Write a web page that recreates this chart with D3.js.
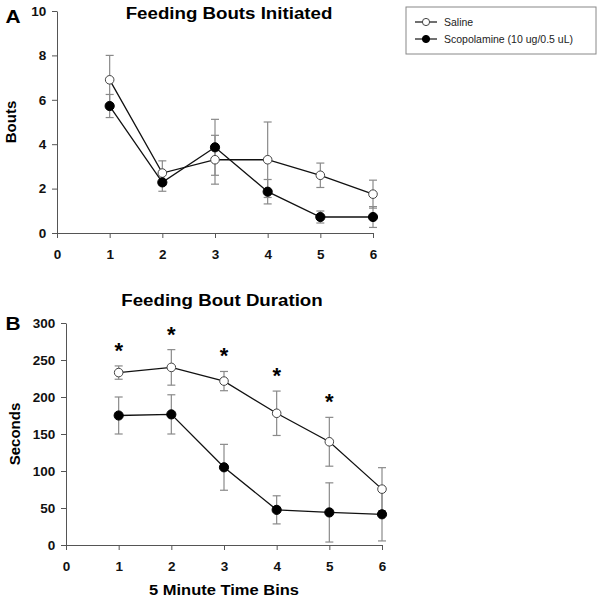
<!DOCTYPE html>
<html><head><meta charset="utf-8">
<script src="https://cdn.jsdelivr.net/npm/d3@7"></script>
<style>body{margin:0;background:#fff}text{font-family:"Liberation Sans",Arial,sans-serif}</style>
</head><body><svg id="c" width="600" height="600"></svg>
<script>
const bins = [1, 2, 3, 4, 5, 6];
const xTicks = [0, 1, 2, 3, 4, 5, 6];
const seriesNames = ["Saline", "Scopolamine (10 ug/0.5 uL)"];
// Panel A: Feeding Bouts Initiated
const boutsSaline = [6.9, 2.7, 3.3, 3.3, 2.6, 1.75];
const boutsSalineErr = [1.1, 0.55, 1.1, 1.7, 0.55, 0.63];
const boutsScop = [5.72, 2.28, 3.86, 1.86, 0.72, 0.72];
const boutsScopErr = [0.52, 0.4, 1.26, 0.55, 0.27, 0.47];
const boutsTicks = [0, 2, 4, 6, 8, 10];
// Panel B: Feeding Bout Duration
const durSaline = [233, 240, 221.5, 178, 139.5, 75.5];
const durSalineErr = [9, 24, 13, 30, 33, 29];
const durScop = [175, 176.5, 105, 47.5, 44, 41.5];
const durScopErr = [25, 26.5, 31, 19, 40, 36];
const durTicks = [0, 50, 100, 150, 200, 250, 300];
const sigBins = [1, 2, 3, 4, 5];

const svg = d3.select("#c");
const errColor = "#8a8a8a", axisColor = "#555";

function stretchText(sel, x, y) {
  // slight horizontal stretch as in the reference image
  return sel.attr("transform", `translate(${x},${y}) scale(1.1,1)`);
}

function panel(cfg) {
  const x = d3.scaleLinear().domain([0, 6]).range([cfg.x0, cfg.x1]);
  const y = d3.scaleLinear().domain([0, cfg.ymax]).range([cfg.yb, cfg.yt]);
  const g = svg.append("g");
  const xa = g.append("g").attr("transform", `translate(0,${cfg.yb})`)
    .call(d3.axisBottom(x).tickValues(xTicks).tickSize(5).tickSizeOuter(0).tickFormat(d3.format("d")));
  const ya = g.append("g").attr("transform", `translate(${cfg.x0},0)`)
    .call(d3.axisLeft(y).tickValues(cfg.ticks).tickSize(5).tickSizeOuter(0).tickFormat(d3.format("d")));
  [xa, ya].forEach(a => {
    a.selectAll("path,line").attr("stroke", axisColor).attr("stroke-width", 1);
    a.selectAll("text").attr("fill", "#111").style("font-size", "13.5px").style("font-weight", "bold");
  });
  xa.selectAll("text").attr("dy", "1.3em");
  ya.selectAll("text").attr("dx", "-0.2em");
  const line = d3.line().x((d, i) => x(bins[i])).y(d => y(d));
  const sets = [[cfg.s1, cfg.e1, "#fff"], [cfg.s2, cfg.e2, "#000"]];
  sets.forEach(([v, e]) => {
    const eg = g.append("g").attr("stroke", errColor).attr("stroke-width", 1.2);
    v.forEach((d, i) => {
      const cx = x(bins[i]);
      eg.append("line").attr("x1", cx).attr("x2", cx).attr("y1", y(d - e[i])).attr("y2", y(d + e[i]));
      [d - e[i], d + e[i]].forEach(t => eg.append("line").attr("x1", cx - 4).attr("x2", cx + 4).attr("y1", y(t)).attr("y2", y(t)));
    });
  });
  sets.forEach(([v]) => g.append("path").datum(v).attr("d", line).attr("fill", "none").attr("stroke", "#111").attr("stroke-width", 1.3));
  sets.forEach(([v, e, f]) => {
    g.selectAll(null).data(v).enter().append("circle")
      .attr("cx", (d, i) => x(bins[i])).attr("cy", d => y(d))
      .attr("r", f === "#000" ? 4.6 : 4.3).attr("fill", f).attr("stroke", f === "#000" ? "#000" : "#444").attr("stroke-width", 1);
  });
  stretchText(g.append("text"), cfg.titleX, cfg.titleY).attr("text-anchor", "middle")
    .style("font-size", "17px").style("font-weight", "bold").text(cfg.title);
  stretchText(g.append("text"), 13, cfg.letterY).attr("text-anchor", "middle")
    .style("font-size", "19px").style("font-weight", "bold").text(cfg.letter);
  g.append("text").attr("transform", `translate(${cfg.ylabX},${(cfg.yt + cfg.yb) / 2}) rotate(-90)`)
    .attr("text-anchor", "middle").style("font-size", "15px").style("font-weight", "bold").text(cfg.ylabel);
  return { x, y, g };
}

panel({ x0: 57, x1: 373, yb: 233, yt: 11, ymax: 10, ticks: boutsTicks,
  s1: boutsSaline, e1: boutsSalineErr, s2: boutsScop, e2: boutsScopErr,
  title: "Feeding Bouts Initiated", titleX: 229, titleY: 19, letter: "A", letterY: 23, ylabel: "Bouts", ylabX: 16 });

const pB = panel({ x0: 66, x1: 382, yb: 545, yt: 323, ymax: 300, ticks: durTicks,
  s1: durSaline, e1: durSalineErr, s2: durScop, e2: durScopErr,
  title: "Feeding Bout Duration", titleX: 222, titleY: 306, letter: "B", letterY: 330, ylabel: "Seconds", ylabX: 20 });

pB.g.selectAll(null).data(sigBins).enter().append("text")
  .attr("x", d => pB.x(d)).attr("y", d => pB.y(durSaline[d - 1] + durSalineErr[d - 1]) - 8)
  .attr("text-anchor", "middle").style("font-size", "22px").style("font-weight", "bold").text("*");

stretchText(svg.append("text"), 224, 595).attr("text-anchor", "middle")
  .style("font-size", "15px").style("font-weight", "bold").text("5 Minute Time Bins");

// legend
const lg = svg.append("g");
lg.append("rect").attr("x", 406).attr("y", 7).attr("width", 190).attr("height", 47)
  .attr("fill", "#fff").attr("stroke", "#888").attr("stroke-width", 1);
seriesNames.forEach((n, i) => {
  const ly = 22 + i * 17;
  lg.append("line").attr("x1", 415).attr("x2", 437).attr("y1", ly).attr("y2", ly).attr("stroke", "#111").attr("stroke-width", 1.2);
  lg.append("circle").attr("cx", 426).attr("cy", ly).attr("r", 3.6)
    .attr("fill", i === 0 ? "#fff" : "#000").attr("stroke", i === 0 ? "#444" : "#000");
  lg.append("text").attr("x", 444).attr("y", ly + 4).style("font-size", "10.5px").attr("fill", "#222").text(n);
});
</script></body></html>
